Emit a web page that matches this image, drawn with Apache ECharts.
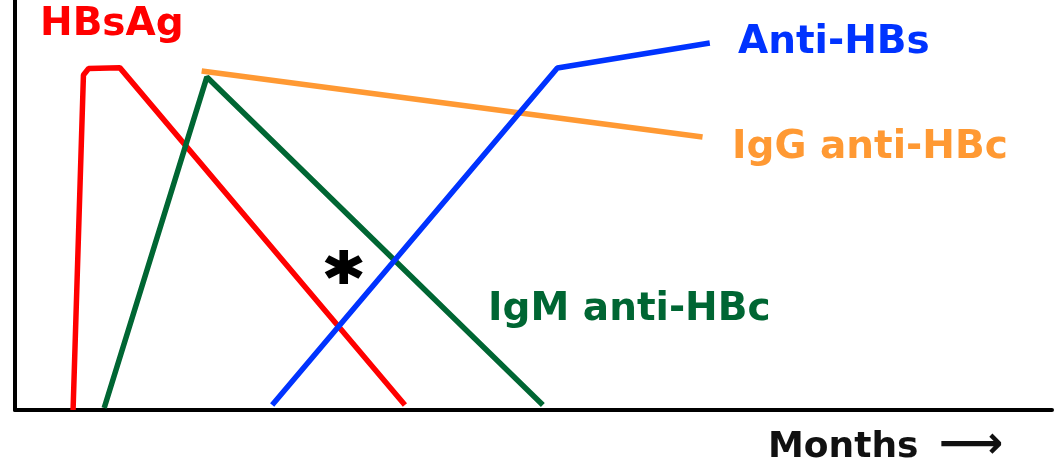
<!DOCTYPE html>
<html>
<head>
<meta charset="utf-8">
<style>
  html, body { margin: 0; padding: 0; background: #fff; }
  .chart { width: 1054px; height: 465px; }
</style>
<script src="https://cdn.jsdelivr.net/npm/echarts@6/dist/echarts.min.js"></script>
</head>
<body>
<div class="chart"></div>
<script>
// 数据 (x: 时间, y: 相对水平, 0-100)
var hbsAg = [[5.6, 0], [6.6, 81.7], [7.1, 83.3], [10.1, 83.5], [37.6, 1.2]];
var igmAntiHBc = [[8.6, 0.5], [18.5, 81.2], [50.9, 1.2]];
var iggAntiHBc = [[18.0, 82.7], [66.3, 66.6]];
var antiHBs = [[24.8, 1.2], [52.3, 83.4], [67.0, 89.5]];
var asterisk = [[31.7, 34.9]];

var seriesNames = ['HBsAg', 'IgM anti-HBc', 'IgG anti-HBc', 'Anti-HBs'];
var colors = ['#ff0000', '#006633', '#ff9933', '#0033ff'];
var xAxisName = 'Months';
var xAxisArrow = '⟶';

(function() {
  // 1. 实例化对象
  var myChart = echarts.init(document.querySelector('.chart'));

  var font = 'bold 39px "DejaVu Sans"';

  function lineSeries(i, data) {
    return {
      name: seriesNames[i],
      type: 'line',
      data: data,
      symbol: 'none',
      smooth: false,
      lineStyle: { color: colors[i], width: 5.5 },
      z: 3
    };
  }

  // 2. 指定配置
  var option = {
    animation: false,
    grid: { left: 15, right: 2, top: 0, bottom: 55 },
    xAxis: {
      type: 'value',
      min: 0,
      max: 100,
      axisLine: { show: true, lineStyle: { color: '#000', width: 4 } },
      axisTick: { show: false },
      axisLabel: { show: false },
      splitLine: { show: false }
    },
    yAxis: {
      type: 'value',
      min: 0,
      max: 100,
      axisLine: { show: true, lineStyle: { color: '#000', width: 4 } },
      axisTick: { show: false },
      axisLabel: { show: false },
      splitLine: { show: false }
    },
    series: [
      lineSeries(0, hbsAg),
      lineSeries(1, igmAntiHBc),
      lineSeries(2, iggAntiHBc),
      lineSeries(3, antiHBs),
      {
        type: 'scatter',
        data: asterisk,
        symbol: 'path://M39 0L61 0L61 100L39 100Z M12.2 15.5L98.8 65.5L87.8 84.5L1.2 34.5Z M98.8 34.5L12.2 84.5L1.2 65.5L87.8 15.5Z',
        symbolSize: [38, 34],
        itemStyle: { color: '#000', opacity: 1 },
        z: 4
      }
    ],
    graphic: [
      { type: 'text', left: 40, top: 5, style: { text: seriesNames[0], font: font, fill: colors[0] } },
      { type: 'text', left: 738, top: 23, style: { text: seriesNames[3], font: font, fill: colors[3] } },
      { type: 'text', left: 732, top: 128, style: { text: seriesNames[2], font: font, fill: colors[2] } },
      { type: 'text', left: 488, top: 290, style: { text: seriesNames[1], font: font, fill: colors[1] } },
      { type: 'text', left: 768, top: 430, style: { text: xAxisName, font: 'bold 36px "DejaVu Sans"', fill: '#111' } },
      { type: 'text', left: 939, top: 424, style: { text: xAxisArrow, font: 'bold 45px "DejaVu Sans"', fill: '#111' } }
    ]
  };

  // 3. 配置实例对象
  myChart.setOption(option);
})();
</script>
</body>
</html>
